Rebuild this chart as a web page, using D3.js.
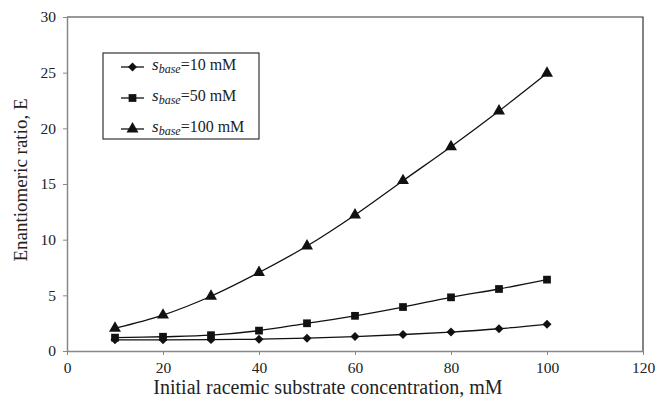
<!DOCTYPE html>
<html>
<head>
<meta charset="utf-8">
<script src="https://cdn.jsdelivr.net/npm/d3@7"></script>
<style>
  body { margin: 0; background: #fff; }
  text { font-family: "Liberation Serif", "Times New Roman", serif; fill: #222; }
</style>
</head>
<body>
<div id="chart"></div>
<script>
// data
const conc = [10, 20, 30, 40, 50, 60, 70, 80, 90, 100];
const base10 = [1.0, 1.0, 1.02, 1.06, 1.15, 1.3, 1.48, 1.7, 2.0, 2.4];
const base50 = [1.2, 1.28, 1.42, 1.83, 2.49, 3.16, 3.95, 4.82, 5.57, 6.41];
const base100 = [2.05, 3.23, 4.92, 7.05, 9.43, 12.22, 15.3, 18.35, 21.56, 24.95];
const seriesLabels = ["=10 mM", "=50 mM", "=100 mM"];
const xTicks = [0, 20, 40, 60, 80, 100, 120];
const yTicks = [0, 5, 10, 15, 20, 25, 30];

const width = 659, height = 406;
const plotL = 67, plotT = 17, plotR = 643, plotB = 351;

const svg = d3.select("#chart").append("svg")
    .attr("width", width)
    .attr("height", height);

const x = d3.scaleLinear().domain([0, 120]).range([plotL, plotR]);
const y = d3.scaleLinear().domain([0, 30]).range([plotB, plotT]);

// frame (top and right)
svg.append("path")
    .attr("d", `M${plotL},${plotT}H${plotR}V${plotB}`)
    .attr("fill", "none")
    .attr("stroke", "#333")
    .attr("stroke-width", 1.2);

// axes
const xAxis = svg.append("g")
    .attr("transform", `translate(0,${plotB})`)
    .call(d3.axisBottom(x).tickValues(xTicks).tickSize(4).tickSizeOuter(0).tickPadding(7));
const yAxis = svg.append("g")
    .attr("transform", `translate(${plotL},0)`)
    .call(d3.axisLeft(y).tickValues(yTicks).tickSize(4).tickSizeOuter(0).tickPadding(7));

[xAxis, yAxis].forEach(a => {
    a.select(".domain").attr("stroke", "#888").attr("stroke-width", 1.5);
    a.selectAll(".tick line").attr("stroke", "#888");
    a.selectAll(".tick text")
        .style("font-family", '"Liberation Serif", serif')
        .style("font-size", "15.5px")
        .attr("fill", "#222");
});

// axis titles
svg.append("text")
    .attr("x", 328)
    .attr("y", 394)
    .attr("text-anchor", "middle")
    .style("font-size", "20px")
    .text("Initial racemic substrate concentration, mM");

svg.append("text")
    .attr("transform", `translate(27,180) rotate(-90)`)
    .attr("text-anchor", "middle")
    .style("font-size", "19px")
    .text("Enantiomeric ratio, E");

// series
const series = [
    { vals: base10, sym: d3.symbolSquare, size: 40, rot: 45 },
    { vals: base50, sym: d3.symbolSquare, size: 60, rot: 0 },
    { vals: base100, sym: d3.symbolTriangle, size: 62, rot: 0 }
];

const line = d3.line()
    .x(d => x(d[0]))
    .y(d => y(d[1]))
    .curve(d3.curveCatmullRom);

series.forEach(s => {
    const pts = conc.map((c, i) => [c, s.vals[i]]);
    svg.append("path")
        .datum(pts)
        .attr("d", line)
        .attr("fill", "none")
        .attr("stroke", "#111")
        .attr("stroke-width", 1.3);
    svg.append("g").selectAll("path")
        .data(pts)
        .join("path")
        .attr("transform", d => `translate(${x(d[0])},${y(d[1])}) rotate(${s.rot})`)
        .attr("d", d3.symbol().type(s.sym).size(s.size))
        .attr("fill", "#111");
});

// legend
const lg = svg.append("g");
lg.append("rect")
    .attr("x", 103).attr("y", 53)
    .attr("width", 156).attr("height", 86)
    .attr("fill", "#fff")
    .attr("stroke", "#333")
    .attr("stroke-width", 1.2);

series.forEach((s, i) => {
    const ly = 67 + i * 31;
    lg.append("line")
        .attr("x1", 121).attr("x2", 144)
        .attr("y1", ly).attr("y2", ly)
        .attr("stroke", "#111").attr("stroke-width", 1.3);
    lg.append("path")
        .attr("transform", `translate(132.5,${ly}) rotate(${s.rot})`)
        .attr("d", d3.symbol().type(s.sym).size(s.size))
        .attr("fill", "#111");
    const t = lg.append("text")
        .attr("x", 152).attr("y", ly + 3)
        .style("font-size", "16px");
    t.append("tspan").style("font-style", "italic").style("font-size", "17px").text("s");
    t.append("tspan").style("font-style", "italic").style("font-size", "12px")
        .attr("dy", 3).text("base");
    t.append("tspan").attr("dy", -3).text(seriesLabels[i]);
});
</script>
</body>
</html>
